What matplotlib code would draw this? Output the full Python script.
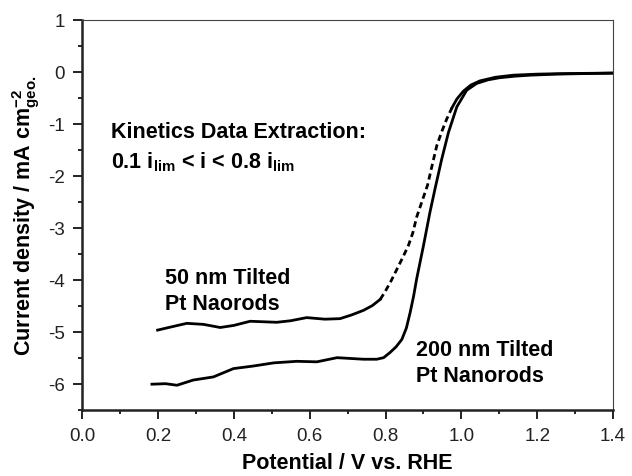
import matplotlib
matplotlib.use("Agg")
import matplotlib.pyplot as plt
from matplotlib.ticker import MultipleLocator

plt.rcParams["font.family"] = ["Liberation Sans", "DejaVu Sans"]
plt.rcParams["mathtext.fontset"] = "custom"
plt.rcParams["mathtext.rm"] = "Liberation Sans"
plt.rcParams["mathtext.bf"] = "Liberation Sans:bold"

# 50 nm tilted Pt nanorods (solid part, dashed kinetic part, solid top part)
v50_low = [0.199, 0.24, 0.276, 0.32, 0.364, 0.40, 0.443, 0.513, 0.55, 0.592, 0.64, 0.680, 0.71, 0.742, 0.765, 0.786]
j50_low = [-4.97, -4.90, -4.84, -4.86, -4.92, -4.88, -4.80, -4.82, -4.79, -4.73, -4.76, -4.75, -4.68, -4.59, -4.50, -4.38]
v50_mid = [0.786, 0.799, 0.815, 0.830, 0.845, 0.860, 0.872, 0.882, 0.896, 0.911, 0.923, 0.935, 0.948, 0.961, 0.975]
j50_mid = [-4.38, -4.23, -4.02, -3.80, -3.58, -3.35, -3.10, -2.80, -2.50, -2.18, -1.80, -1.43, -1.16, -0.92, -0.70]
v50_top = [0.975, 0.988, 1.005, 1.025, 1.049, 1.09, 1.137, 1.20, 1.268, 1.33, 1.40]
j50_top = [-0.70, -0.53, -0.38, -0.26, -0.18, -0.11, -0.07, -0.05, -0.04, -0.035, -0.03]

# 200 nm tilted Pt nanorods
v200 = [0.184, 0.22, 0.250, 0.293, 0.346, 0.399, 0.452, 0.505, 0.566, 0.619, 0.672, 0.742, 0.777,
        0.795, 0.812, 0.828, 0.843, 0.855, 0.865, 0.874, 0.882, 0.900, 0.917, 0.931, 0.948, 0.966,
        0.988, 1.014, 1.040, 1.070, 1.100, 1.14, 1.181, 1.25, 1.32, 1.40]
j200 = [-6.01, -6.00, -6.03, -5.93, -5.87, -5.71, -5.66, -5.60, -5.57, -5.58, -5.50, -5.53, -5.53,
        -5.50, -5.40, -5.29, -5.15, -4.93, -4.63, -4.32, -3.99, -3.35, -2.71, -2.24, -1.69, -1.17,
        -0.68, -0.36, -0.23, -0.16, -0.12, -0.09, -0.07, -0.05, -0.04, -0.03]

fig = plt.figure(figsize=(6.32, 4.77), dpi=100)
ax = fig.add_axes([0.130, 0.139, 0.840, 0.818])

lw = 2.0
ax.plot(v50_low, j50_low, color="black", lw=lw)
ax.plot(v50_mid, j50_mid, color="black", lw=lw, ls=(0, (2.2, 1.4)))
ax.plot(v50_top, j50_top, color="black", lw=lw)
ax.plot(v200, j200, color="black", lw=lw)

ax.set_xlim(0.0, 1.4)
ax.set_ylim(-6.5, 1.0)
ax.xaxis.set_major_locator(MultipleLocator(0.2))
ax.xaxis.set_minor_locator(MultipleLocator(0.1))
ax.yaxis.set_major_locator(MultipleLocator(1))
ax.yaxis.set_minor_locator(MultipleLocator(0.5))
ax.xaxis.set_major_formatter(plt.FuncFormatter(lambda v, p: "%.1f" % v))
ax.yaxis.set_major_formatter(plt.FuncFormatter(lambda v, p: "%d" % round(v)))

ax.tick_params(which="both", direction="out", width=1.4, colors="#222222",
               labelsize=13.5, labelcolor="#222222", top=False, right=False)
ax.tick_params(which="major", length=6.5, pad=6)
ax.tick_params(which="minor", length=3)
for s in ["left", "bottom"]:
    ax.spines[s].set_linewidth(1.8)
    ax.spines[s].set_color("#222222")
for s in ["top", "right"]:
    ax.spines[s].set_linewidth(0.8)
    ax.spines[s].set_color("#444444")

ax.set_xlabel("Potential / V vs. RHE", fontsize=15.5, fontweight="bold", labelpad=6)
ax.set_ylabel(r"Current density / mA cm$_{\mathbf{geo.}}^{\mathbf{-2}}$",
              fontsize=15.5, fontweight="bold", labelpad=4)

fs = 15.5
ax.text(0.0765, -1.26, "Kinetics Data Extraction:", fontsize=fs, fontweight="bold",
        ha="left", va="baseline")
ax.text(0.0765, -1.84, r"0.1 $\mathbf{i}_{\mathbf{lim}}$ < i < 0.8 $\mathbf{i}_{\mathbf{lim}}$",
        fontsize=fs, fontweight="bold", ha="left", va="baseline")
ax.text(0.219, -4.06, "50 nm Tilted", fontsize=fs, fontweight="bold", ha="left", va="baseline")
ax.text(0.219, -4.57, "Pt Naorods", fontsize=fs, fontweight="bold", ha="left", va="baseline")
ax.text(0.881, -5.44, "200 nm Tilted", fontsize=fs, fontweight="bold", ha="left", va="baseline")
ax.text(0.881, -5.95, "Pt Nanorods", fontsize=fs, fontweight="bold", ha="left", va="baseline")

fig.savefig("out.png", dpi=100)
